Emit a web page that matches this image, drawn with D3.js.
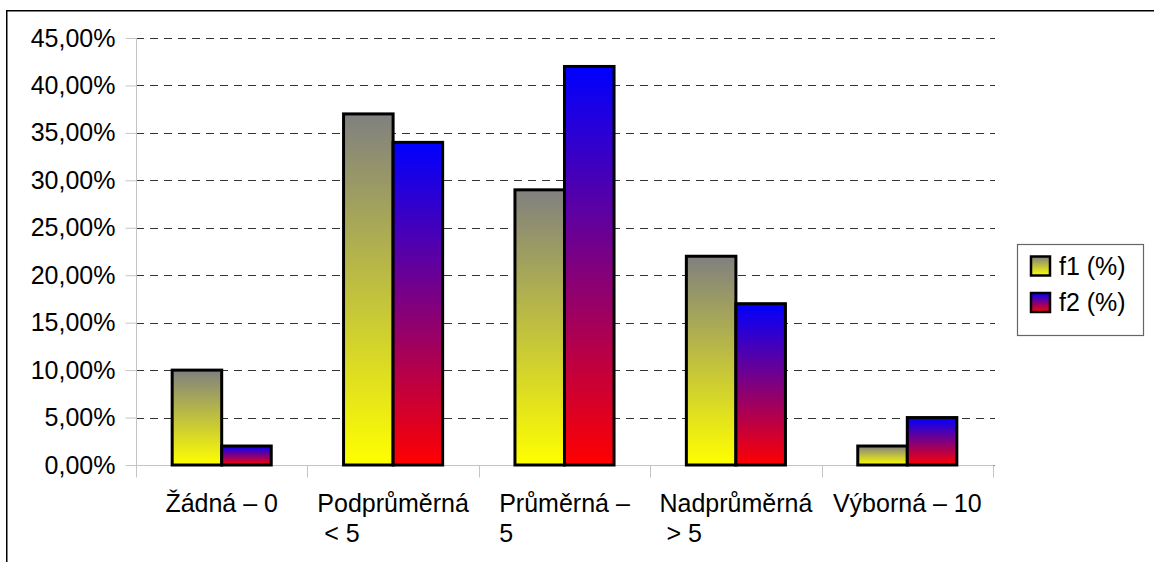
<!DOCTYPE html>
<html>
<head>
<meta charset="utf-8">
<script src="https://cdn.jsdelivr.net/npm/d3@7"></script>
<style>
  html, body { margin: 0; padding: 0; background: #fff; }
  svg { display: block; }
  text { font-family: "Liberation Sans", Arial, sans-serif; fill: #000; }
</style>
</head>
<body>
<svg id="chart" width="1154" height="562"></svg>
<script>
// Rating categories (each label split into lines as it wraps under the axis)
const categories = ["Žádná – 0", "Podprůměrná < 5", "Průměrná – 5", "Nadprůměrná > 5", "Výborná – 10"];
const categoryLines = [["Žádná – 0"], ["Podprůměrná", " < 5"], ["Průměrná –", "5"], ["Nadprůměrná", " > 5"], ["Výborná – 10"]];
const seriesNames = ["f1 (%)", "f2 (%)"];
const f1Values = [10, 37, 29, 22, 2];
const f2Values = [2, 34, 42, 17, 5];
const yTicks = [0, 5, 10, 15, 20, 25, 30, 35, 40, 45];

const svg = d3.select("#chart");
const plot = { left: 136, right: 993, top: 38, bottom: 465 };

const csLocale = d3.formatLocale({ decimal: ",", thousands: " ", grouping: [3], currency: ["", " Kč"] });
const fmt = v => csLocale.format(".2f")(v) + "%";

const x = d3.scaleBand().domain(categories).range([plot.left, plot.right]).padding(0);
const xs = d3.scaleBand().domain(seriesNames).range([0, x.bandwidth()]).paddingInner(0).paddingOuter(0.73);
const y = d3.scaleLinear().domain([0, 45]).range([plot.bottom, plot.top]);

// Gradients for the two series
const defs = svg.append("defs");
const gradients = [
  { id: "gradF1", top: "#808080", bottom: "#ffff00" },
  { id: "gradF2", top: "#0000ff", bottom: "#ff0000" }
];
gradients.forEach(g => {
  const lg = defs.append("linearGradient").attr("id", g.id)
    .attr("x1", 0).attr("y1", 0).attr("x2", 0).attr("y2", 1);
  lg.append("stop").attr("offset", "0%").attr("stop-color", g.top);
  lg.append("stop").attr("offset", "100%").attr("stop-color", g.bottom);
});
const fills = { "f1 (%)": "url(#gradF1)", "f2 (%)": "url(#gradF2)" };

// Outer frame (top and left edges)
svg.append("path")
  .attr("d", "M6.75,562 V10.75 H1154")
  .attr("fill", "none").attr("stroke", "#000").attr("stroke-width", 1.5);

// Horizontal dashed gridlines
svg.append("g").selectAll("line").data(yTicks).join("line")
  .attr("x1", plot.left).attr("x2", plot.right + 2)
  .attr("y1", d => Math.round(y(d)) + 0.5).attr("y2", d => Math.round(y(d)) + 0.5)
  .attr("stroke", d => d === 0 ? "#888" : "#333")
  .attr("stroke-width", 1.2)
  .attr("stroke-dasharray", "8,6");

// Y axis
const yAxis = svg.append("g")
  .attr("transform", `translate(${plot.left + 0.5},0)`)
  .call(d3.axisLeft(y).tickValues(yTicks).tickFormat(fmt).tickSize(11).tickPadding(10));
yAxis.select(".domain").attr("stroke", "#c4c4c4").attr("d", `M0,${plot.top} V${plot.bottom + 12}`);
yAxis.selectAll(".tick line").attr("stroke", "#c4c4c4");
yAxis.selectAll(".tick text").attr("font-size", 25).attr("fill", "#000")
  .style("font-family", "'Liberation Sans', Arial, sans-serif");

// X axis: baseline and category separators
const xAxis = svg.append("g").attr("transform", `translate(0,${Math.round(y(0)) + 0.5})`);
xAxis.append("line").attr("x1", plot.left).attr("x2", plot.right)
  .attr("stroke", "#c4c4c4");
const boundaries = categories.map(c => x(c)).concat([plot.right]);
xAxis.selectAll("line.sep").data(boundaries).join("line").attr("class", "sep")
  .attr("x1", d => Math.round(d) + 0.5).attr("x2", d => Math.round(d) + 0.5)
  .attr("y1", 0).attr("y2", 12).attr("stroke", "#c4c4c4");

// Bars
const rows = categories.map((c, i) => ({ cat: c, vals: [f1Values[i], f2Values[i]] }));
const groups = svg.append("g").selectAll("g").data(rows).join("g")
  .attr("transform", d => `translate(${x(d.cat)},0)`);
groups.selectAll("rect").data(d => seriesNames.map((s, j) => ({ s, v: d.vals[j] }))).join("rect")
  .attr("x", d => xs(d.s))
  .attr("width", xs.bandwidth())
  .attr("y", d => y(d.v))
  .attr("height", d => y(0) - y(d.v))
  .attr("fill", d => fills[d.s])
  .attr("stroke", "#000").attr("stroke-width", 3);

// Category labels: lines left-aligned, block centred under each category
const labels = svg.append("g").selectAll("text").data(categories).join("text")
  .attr("font-size", 25)
  .style("white-space", "pre")
  .attr("xml:space", "preserve");
labels.each(function (c, i) {
  const t = d3.select(this);
  categoryLines[i].forEach((line, k) => {
    t.append("tspan").attr("x", 0).attr("y", 512 + k * 30).text(line);
  });
  const w = d3.max(t.selectAll("tspan").nodes(), n => n.getComputedTextLength());
  const cx = x(c) + x.bandwidth() / 2;
  t.selectAll("tspan").attr("x", cx - w / 2);
});

// Legend
const legend = svg.append("g");
legend.append("rect")
  .attr("x", 1017.5).attr("y", 244.5).attr("width", 126).attr("height", 91)
  .attr("fill", "#fff").attr("stroke", "#666").attr("stroke-width", 1.2);
seriesNames.forEach((s, i) => {
  const cy = 266 + i * 36.5;
  legend.append("rect")
    .attr("x", 1031).attr("y", cy - 9.5).attr("width", 19).attr("height", 19)
    .attr("fill", fills[s]).attr("stroke", "#000").attr("stroke-width", 2.5);
  legend.append("text")
    .attr("x", 1059).attr("y", cy).attr("dy", "0.35em")
    .attr("font-size", 25).text(s.replace(" ", "\u00a0"));
});
</script>
</body>
</html>
